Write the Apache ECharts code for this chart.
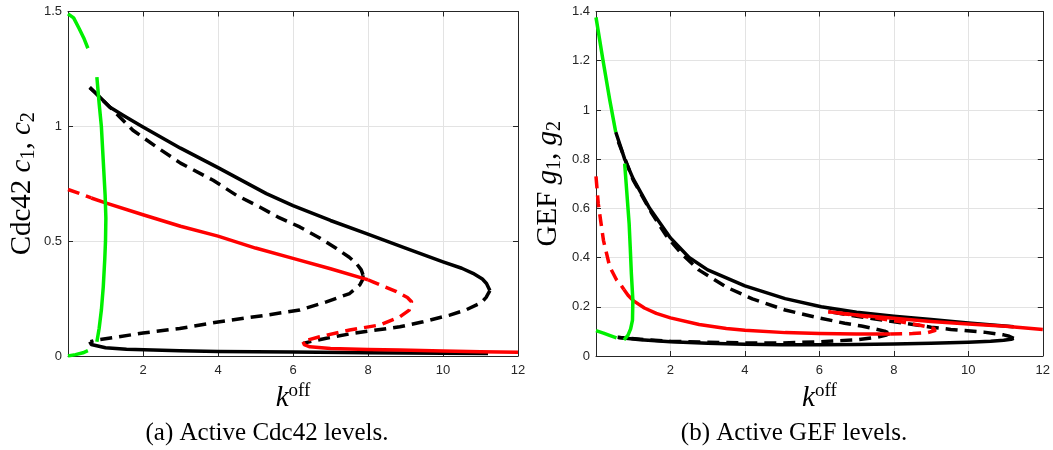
<!DOCTYPE html>
<html>
<head>
<meta charset="utf-8">
<script src="https://cdn.jsdelivr.net/npm/echarts@6/dist/echarts.min.js"></script>
<style>
html,body{margin:0;padding:0;background:#fff;}
#chart{width:1053px;height:450px;}
</style>
</head>
<body>
<div id="chart"></div>
<script>
// ---------- tick labels ----------
const xTicks = [0, 2, 4, 6, 8, 10, 12];
const cTicks = [0, 0.5, 1, 1.5];
const gTicks = [0, 0.2, 0.4, 0.6, 0.8, 1, 1.2, 1.4];

// ---------- panel (a): Cdc42 c1, c2 vs k_off ----------
const cGreenTop = [[0,1.49],[0.15,1.472],[0.3,1.425],[0.42,1.385],[0.53,1.34]];
const cGreenMid = [[0.77,1.214],[0.83,1.1],[0.89,1.0],[0.94,0.85],[0.99,0.7],[1.01,0.6],[1.0,0.5],[0.98,0.42],[0.94,0.3],[0.89,0.2],[0.83,0.12],[0.77,0.062]];
const cGreenLow = [[0,0],[0.2,0.006],[0.4,0.014],[0.53,0.023]];
const cBlackUpper = [[0.58,1.168],[0.76,1.142],[1.11,1.084],[1.5,1.045],[2.0,0.997],[3,0.905],[4,0.82],[5.29,0.707],[6,0.655],[7,0.59],[7.96,0.533],[9,0.47],[10,0.41],[10.5,0.382],[10.8,0.36],[11.05,0.335],[11.16,0.316],[11.25,0.285]];
const cBlackUpperDash = [[0.58,1.17],[1.2,1.07],[1.73,0.983],[2.36,0.91],[3,0.84],[3.87,0.765],[4.49,0.70],[5.11,0.649],[5.6,0.605],[6.18,0.562],[6.7,0.515],[7.16,0.468],[7.5,0.43],[7.69,0.403],[7.82,0.375],[7.87,0.352]];
const cBlackLowDash = [[7.87,0.352],[7.85,0.33],[7.78,0.309],[7.51,0.272],[6.89,0.236],[6.18,0.2],[5.29,0.178],[4,0.148],[2.98,0.12],[2,0.1],[1.2,0.08],[0.76,0.07],[0.6,0.062]];
const cBlackBottom = [[0.58,0.062],[0.62,0.05],[0.67,0.043],[1,0.036],[1.56,0.029],[2.98,0.023],[4,0.02],[6,0.017],[8,0.014],[10,0.012],[11.2,0.011]];
const cBlackFoldDash = [[11.25,0.285],[11.15,0.255],[11.02,0.232],[10.6,0.2],[10.18,0.178],[9.47,0.149],[8.85,0.127],[8.22,0.113],[7.6,0.099],[6.89,0.077],[6.5,0.064],[6.27,0.055]];
const cRedDashA = [[0,0.725],[0.3,0.708],[0.62,0.688]];
const cRedSolidA = [[0.62,0.688],[1,0.667],[2,0.615],[3,0.565],[4,0.522],[5,0.47],[6,0.425],[7,0.38],[7.87,0.338],[8.0,0.332]];
const cRedDashB = [[8.0,0.332],[8.13,0.323],[8.76,0.28],[9.05,0.255],[9.16,0.236],[9.1,0.2],[8.85,0.171],[8.31,0.135],[7.51,0.113],[6.71,0.084],[6.4,0.07],[6.27,0.062]];
const cRedSolidB = [[6.27,0.062],[6.3,0.05],[6.45,0.04],[7,0.033],[8,0.028],[8.85,0.026],[10,0.022],[11,0.019],[12,0.016]];

// ---------- panel (b): GEF g1, g2 vs k_off ----------
const gGreenTop = [[0,1.376],[0.19,1.2],[0.37,1.04],[0.53,0.91]];
const gGreenMid = [[0.77,0.782],[0.83,0.66],[0.89,0.538],[0.92,0.44],[0.95,0.335],[0.99,0.227],[0.98,0.146],[0.93,0.11],[0.86,0.085],[0.75,0.065]];
const gGreenLow = [[0,0.103],[0.2,0.093],[0.4,0.082],[0.55,0.074]];
const gBlackUpper = [[0.53,0.91],[0.77,0.8],[1.0,0.72],[1.44,0.6],[2.0,0.48],[2.5,0.4],[3,0.35],[4,0.285],[5.08,0.233],[6.05,0.2],[7,0.178],[8,0.162],[9,0.148],[10,0.134],[11.22,0.119]];
const gBlackUpperDash = [[0.6,0.87],[1,0.715],[1.5,0.58],[1.88,0.49],[2.3,0.415],[2.77,0.349],[3.5,0.28],[4.2,0.232],[5.08,0.187],[5.9,0.158],[6.68,0.133],[7.13,0.122],[7.5,0.11],[7.75,0.101],[7.88,0.092]];
const gBlackLowDash = [[7.88,0.092],[7.8,0.085],[7.57,0.077],[7,0.066],[6,0.058],[5,0.053],[4,0.053],[3,0.056],[2,0.06],[1.2,0.068],[0.6,0.075]];
const gBlackBottom = [[0.58,0.076],[0.8,0.072],[1.2,0.066],[2,0.058],[3,0.052],[4,0.048],[5,0.046],[6,0.046],[7,0.047],[8,0.049],[9,0.052],[10,0.056],[10.6,0.06],[10.95,0.064],[11.15,0.068],[11.22,0.072]];
const gBlackFoldDash = [[11.22,0.072],[11.1,0.08],[10.95,0.086],[10.42,0.097],[9.53,0.108],[9,0.117],[8.19,0.135],[7.5,0.15],[6.86,0.165],[6.25,0.18]];
const gRedDashA = [[0,0.73],[0.06,0.62],[0.2,0.47],[0.37,0.362],[0.55,0.31],[0.64,0.295],[0.75,0.27]];
const gRedSolidA = [[0.75,0.27],[0.86,0.247],[1.0,0.225],[1.3,0.195],[1.62,0.173],[2,0.155],[2.77,0.128],[3.5,0.112],[4,0.105],[5.08,0.095],[6,0.091],[7,0.089],[7.9,0.089]];
const gRedDashB = [[7.9,0.089],[8.5,0.091],[8.9,0.095],[9.1,0.103],[9.08,0.112],[8.7,0.125],[8.19,0.139],[7.5,0.155],[6.86,0.168],[6.24,0.18]];
const gRedSolidB = [[6.24,0.18],[7,0.167],[8,0.153],[9,0.14],[10,0.13],[11,0.121],[12,0.108]];

// ---------- build ----------
const AX = '#262626';
const GRIDC = '#e3e3e3';
const SANS = 'Liberation Sans, Arial, sans-serif';
const SERIF = 'Liberation Serif, Times New Roman, serif';
const DASH = [12, 7];
const LW = 3.5;

function xAx(gi, ticks, top) {
  return {
    type: 'value', gridIndex: gi, min: ticks[0], max: ticks[ticks.length-1], interval: ticks[1]-ticks[0],
    position: top ? 'top' : 'bottom',
    axisLine: {show: true, onZero: false, lineStyle: {color: AX, width: 1}},
    axisTick: {show: true, inside: true, length: 5, lineStyle: {color: AX}},
    axisLabel: {show: !top, inside: false, margin: 8, color: AX, fontFamily: SANS, fontSize: 13,
      formatter: v => (v === 0 ? '' : String(v))},
    splitLine: {show: !top, lineStyle: {color: GRIDC, width: 1}}
  };
}
function yAx(gi, ticks, right) {
  return {
    type: 'value', gridIndex: gi, min: ticks[0], max: ticks[ticks.length-1], interval: ticks[1]-ticks[0],
    position: right ? 'right' : 'left',
    axisLine: {show: true, onZero: false, lineStyle: {color: AX, width: 1}},
    axisTick: {show: true, inside: true, length: 5, lineStyle: {color: AX}},
    axisLabel: {show: !right, margin: 6, color: AX, fontFamily: SANS, fontSize: 13,
      formatter: v => String(Math.round(v*10)/10)},
    splitLine: {show: !right, lineStyle: {color: GRIDC, width: 1}}
  };
}

const xAxes = [xAx(0, xTicks, false), xAx(0, xTicks, true), xAx(1, xTicks, false), xAx(1, xTicks, true)];
const yAxes = [yAx(0, cTicks, false), yAx(0, cTicks, true), yAx(1, gTicks, false), yAx(1, gTicks, true)];

const kName = '{k|k}{s|off}';
const kRich = {
  k: {fontFamily: SERIF, fontStyle: 'italic', fontSize: 29, lineHeight: 32, color: '#000'},
  s: {fontFamily: SERIF, fontSize: 19, lineHeight: 19, verticalAlign: 'top', color: '#000'}
};
xAxes[0].name = kName; xAxes[0].nameLocation = 'middle'; xAxes[0].nameGap = 22;
xAxes[0].nameTextStyle = {rich: kRich};
xAxes[2].name = kName; xAxes[2].nameLocation = 'middle'; xAxes[2].nameGap = 22;
xAxes[2].nameTextStyle = {rich: kRich};

const yRich = {
  r: {fontFamily: SERIF, fontSize: 29, lineHeight: 34, color: '#000'},
  i: {fontFamily: SERIF, fontStyle: 'italic', fontSize: 29, lineHeight: 34, color: '#000'},
  b: {fontFamily: SERIF, fontSize: 20, lineHeight: 20, verticalAlign: 'bottom', color: '#000'}
};
yAxes[0].name = '{r|Cdc42 }{i|c}{b|1}{r|, }{i|c}{b|2}';
yAxes[0].nameLocation = 'middle'; yAxes[0].nameGap = 29; yAxes[0].nameRotate = 90;
yAxes[0].nameTextStyle = {rich: yRich};
yAxes[2].name = '{r|GEF }{i|g}{b|1}{r|, }{i|g}{b|2}';
yAxes[2].nameLocation = 'middle'; yAxes[2].nameGap = 31; yAxes[2].nameRotate = 90;
yAxes[2].nameTextStyle = {rich: yRich};

function ln(data, color, dashed, xi, yi, z) {
  return {
    type: 'line', data: data, xAxisIndex: xi, yAxisIndex: yi, showSymbol: false, symbol: 'none',
    z: z, silent: true, clip: true,
    lineStyle: {color: color, width: LW, type: dashed ? DASH : 'solid', cap: 'butt', join: 'round'}
  };
}
const K = '#000000', R = '#ff0000', G = '#00f000';
const series = [
  // panel a
  ln(cBlackBottom, K, false, 0, 0, 2),
  ln(cBlackUpper, K, false, 0, 0, 2),
  ln(cBlackUpperDash, K, true, 0, 0, 2),
  ln(cBlackLowDash, K, true, 0, 0, 2),
  ln(cBlackFoldDash, K, true, 0, 0, 2),
  ln(cRedDashA, R, true, 0, 0, 3),
  ln(cRedSolidA, R, false, 0, 0, 3),
  ln(cRedDashB, R, true, 0, 0, 3),
  ln(cRedSolidB, R, false, 0, 0, 3),
  ln(cGreenTop, G, false, 0, 0, 4),
  ln(cGreenMid, G, false, 0, 0, 4),
  ln(cGreenLow, G, false, 0, 0, 4),
  // panel b
  ln(gBlackBottom, K, false, 2, 2, 2),
  ln(gBlackUpper, K, false, 2, 2, 2),
  ln(gBlackUpperDash, K, true, 2, 2, 2),
  ln(gBlackLowDash, K, true, 2, 2, 2),
  ln(gBlackFoldDash, K, true, 2, 2, 2),
  ln(gRedDashA, R, true, 2, 2, 3),
  ln(gRedSolidA, R, false, 2, 2, 3),
  ln(gRedDashB, R, true, 2, 2, 3),
  ln(gRedSolidB, R, false, 2, 2, 3),
  ln(gGreenTop, G, false, 2, 2, 4),
  ln(gGreenMid, G, false, 2, 2, 4),
  ln(gGreenLow, G, false, 2, 2, 4)
];

const chart = echarts.init(document.getElementById('chart'), null, {renderer: 'canvas'});
chart.setOption({
  animation: false,
  backgroundColor: '#ffffff',
  grid: [
    {left: 68, top: 11.5, width: 450, height: 344.5, containLabel: false},
    {left: 596, top: 11.5, width: 450, height: 344.5, containLabel: false}
  ],
  xAxis: xAxes,
  yAxis: yAxes,
  series: series,
  graphic: [
    {type: 'text', style: {text: '(a) Active Cdc42 levels.', x: 267, y: 433, align: 'center', verticalAlign: 'middle', fontFamily: SERIF, fontSize: 25, fill: '#000'}},
    {type: 'text', style: {text: '(b) Active GEF levels.', x: 794, y: 433, align: 'center', verticalAlign: 'middle', fontFamily: SERIF, fontSize: 25, fill: '#000'}}
  ]
});
</script>
</body>
</html>
